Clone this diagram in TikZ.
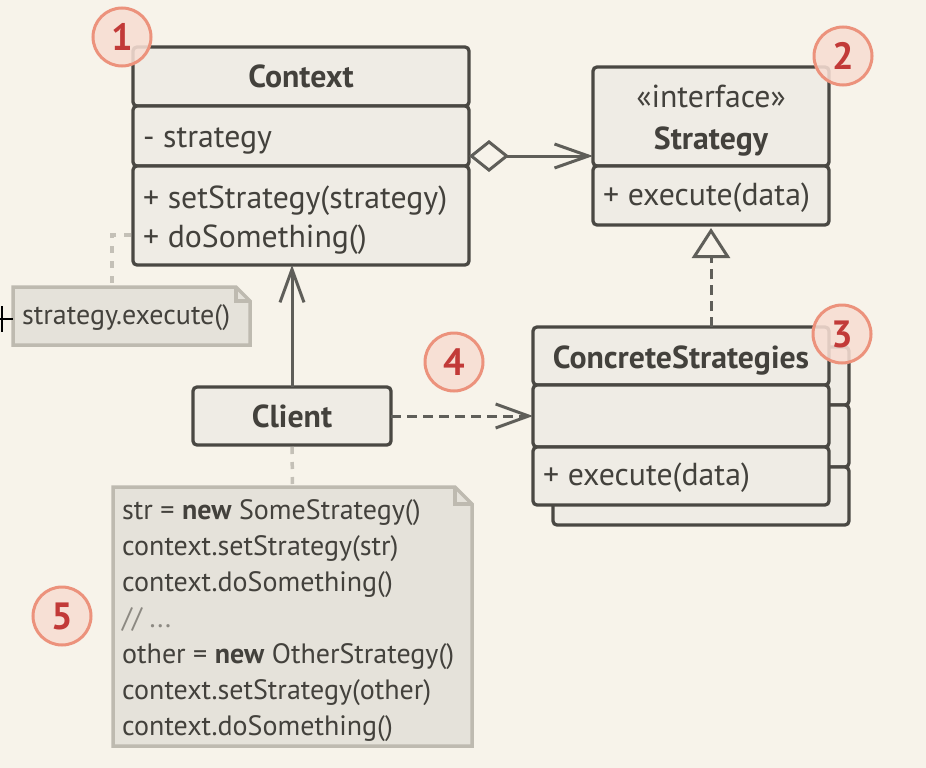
\documentclass[tikz,border=0pt]{standalone}
\usepackage{fontspec}
\setmainfont{PT Sans}
\usetikzlibrary{arrows.meta,calc}
\definecolor{bg}{RGB}{247,243,234}
\definecolor{boxfill}{RGB}{239,236,229}
\definecolor{boxline}{RGB}{74,72,67}
\definecolor{txt}{RGB}{67,65,60}
\definecolor{arrowc}{RGB}{95,94,89}
\definecolor{notefill}{RGB}{229,226,218}
\definecolor{noteline}{RGB}{190,186,176}
\definecolor{dotc}{RGB}{196,192,183}
\definecolor{badgefill}{RGB}{247,222,211}
\definecolor{badgeline}{RGB}{236,146,124}
\definecolor{badgetxt}{RGB}{194,58,56}
\definecolor{commentc}{RGB}{140,137,130}
\begin{document}
\begin{tikzpicture}[x=1pt,y=-1pt,
  sec/.style={draw=boxline, fill=boxfill, line width=3.3pt, rounded corners=4pt,
    inner sep=0pt, outer sep=0pt, anchor=north west},
  bodytxt/.style={inner sep=0pt, text=txt, anchor=base west,
    font=\fontsize{31.8}{38}\selectfont},
  titletxt/.style={inner sep=0pt, text=txt, anchor=base,
    font=\fontsize{31.8}{38}\selectfont\bfseries},
  conn/.style={draw=arrowc, line width=3pt},
  dashconn/.style={conn, dash pattern=on 10pt off 6pt},
  barb/.style={-{Straight Barb[length=33pt,width=24pt,line width=3pt]}},
  dotconn/.style={draw=dotc, line width=3.5pt, dash pattern=on 7pt off 8pt},
  notebox/.style={inner sep=0pt, outer sep=0pt, anchor=north west},
  noteshape/.style={draw=noteline, fill=notefill, line width=3.5pt, line join=miter},
  notetext/.style={inner sep=0pt, text=txt, anchor=west, align=left,
    font=\fontsize{28}{36}\selectfont},
  badge/.style={circle, draw=badgeline, fill=badgefill, line width=3pt,
    minimum size=58pt, inner sep=0pt, text=badgetxt, fill opacity=0.88,
    text opacity=1, font=\fontsize{38}{38}\selectfont\bfseries}
]
\useasboundingbox (0,0) rectangle (926,768);
\fill[bg] (0,0) rectangle (926,768);

% note frames (invisible nodes)
\node[notebox, minimum width=237pt, minimum height=58pt] (note1) at (13,287) {};
\node[notebox, minimum width=359pt, minimum height=259pt] (note2) at (113,487) {};

% Context
\node[sec, minimum width=336pt, minimum height=59pt] (ctxhead) at (133,47) {};
\node[sec, minimum width=336pt, minimum height=60pt] (ctxattr) at (133,106) {};
\node[sec, minimum width=336pt, minimum height=99pt] (ctxmeth) at (133,166) {};
\node[titletxt] (ctxtitle) at (ctxhead.center |- 0,88) {Context};
\node[bodytxt] (ctxattrtxt) at ([xshift=10pt]ctxattr.west |- 0,147) {- strategy};
\node[bodytxt] (ctxm1) at ([xshift=10pt]ctxmeth.west |- 0,208) {+ setStrategy(strategy)};
\node[bodytxt] (ctxm2) at ([xshift=10pt]ctxmeth.west |- 0,247) {+ doSomething()};

% Client
\node[sec, minimum width=198pt, minimum height=58pt] (client) at (193,387) {};
\node[titletxt] (clienttxt) at (client.center |- 0,427) {Client};

% dotted note connectors
\draw[dotconn, shorten <=2pt] ([yshift=-19.5pt]ctxmeth.west) -| ([xshift=99pt]note1.north west);
\draw[dotconn, shorten <=2pt] (client.south) -- (note2.north);

% notes
\draw[noteshape] (note1.north west) -- ([xshift=-14pt]note1.north east)
  -- ([yshift=-14pt]note1.north east) -- (note1.south east) -- (note1.south west) -- cycle;
\draw[noteshape, fill=none] ([xshift=-14pt]note1.north east) |- ([yshift=-14pt]note1.north east);
\node[notetext] (note1txt) at ([xshift=9pt,yshift=-2pt]note1.west) {strategy.execute()};

\draw[noteshape] (note2.north west) -- ([xshift=-17pt]note2.north east)
  -- ([yshift=-17pt]note2.north east) -- (note2.south east) -- (note2.south west) -- cycle;
\draw[noteshape, fill=none] ([xshift=-17pt]note2.north east) |- ([yshift=-17pt]note2.north east);
\node[notetext] (note2txt) at ([xshift=9pt,yshift=-4pt]note2.west) {str = {\bfseries new} SomeStrategy()\\
context.setStrategy(str)\\
context.doSomething()\\
{\color{commentc}// ...}\\
other = {\bfseries new} OtherStrategy()\\
context.setStrategy(other)\\
context.doSomething()};

% Strategy
\node[sec, minimum width=236pt, minimum height=99pt] (strhead) at (593,67) {};
\node[sec, minimum width=236pt, minimum height=59pt] (strmeth) at (593,166) {};
\node[titletxt, font=\fontsize{31.8}{38}\selectfont] (strster) at (strhead.center |- 0,107) {«interface»};
\node[titletxt] (strtitle) at (strhead.center |- 0,149) {Strategy};
\node[bodytxt] (strm1) at ([xshift=10pt]strmeth.west |- 0,205) {+ execute(data)};

% ConcreteStrategies (back copy)
\node[sec, minimum width=296pt, minimum height=58pt] (csheadB) at (553,347) {};
\node[sec, minimum width=296pt, minimum height=62pt] (csattrB) at (553,405) {};
\node[sec, minimum width=296pt, minimum height=58pt] (csmethB) at (553,467) {};
% front
\node[sec, minimum width=296pt, minimum height=58pt] (csheadF) at (533,327) {};
\node[sec, minimum width=296pt, minimum height=62pt] (csattrF) at (533,385) {};
\node[sec, minimum width=296pt, minimum height=58pt] (csmethF) at (533,447) {};
\node[titletxt] (cstitle) at (csheadF.center |- 0,368) {ConcreteStrategies};
\node[bodytxt] (csm1) at ([xshift=10pt]csmethF.west |- 0,485) {+ execute(data)};

% connectors
\draw[conn, {Diamond[open,length=40pt,width=32pt,line width=3pt]}-{Straight Barb[length=34pt,width=24pt,line width=3pt]}]
  ([yshift=10pt]ctxattr.south east) -- ([yshift=10pt]ctxattr.south east -| strhead.west);
\draw[conn, barb] (client.north) -- (client.north |- ctxmeth.south);
\draw[dashconn, barb] (client.east) -- (client.east -| csattrF.west);
\draw[dashconn, -{Triangle[open,length=30pt,width=38pt,line width=3pt]}, shorten >=3pt]
  (strmeth.south |- csheadF.north) -- (strmeth.south);

% small black tick at the left edge
\draw[black, line width=2.5pt] (2,306) -- (2,332) (0,319) -- (13,319);

% badges
\node[badge] (b1) at (122,37) {1};
\node[badge] (b2) at (843,56) {2};
\node[badge] (b3) at (842,334) {3};
\node[badge] (b4) at (454,362) {4};
\node[badge] (b5) at (62,616) {5};
\end{tikzpicture}
\end{document}
